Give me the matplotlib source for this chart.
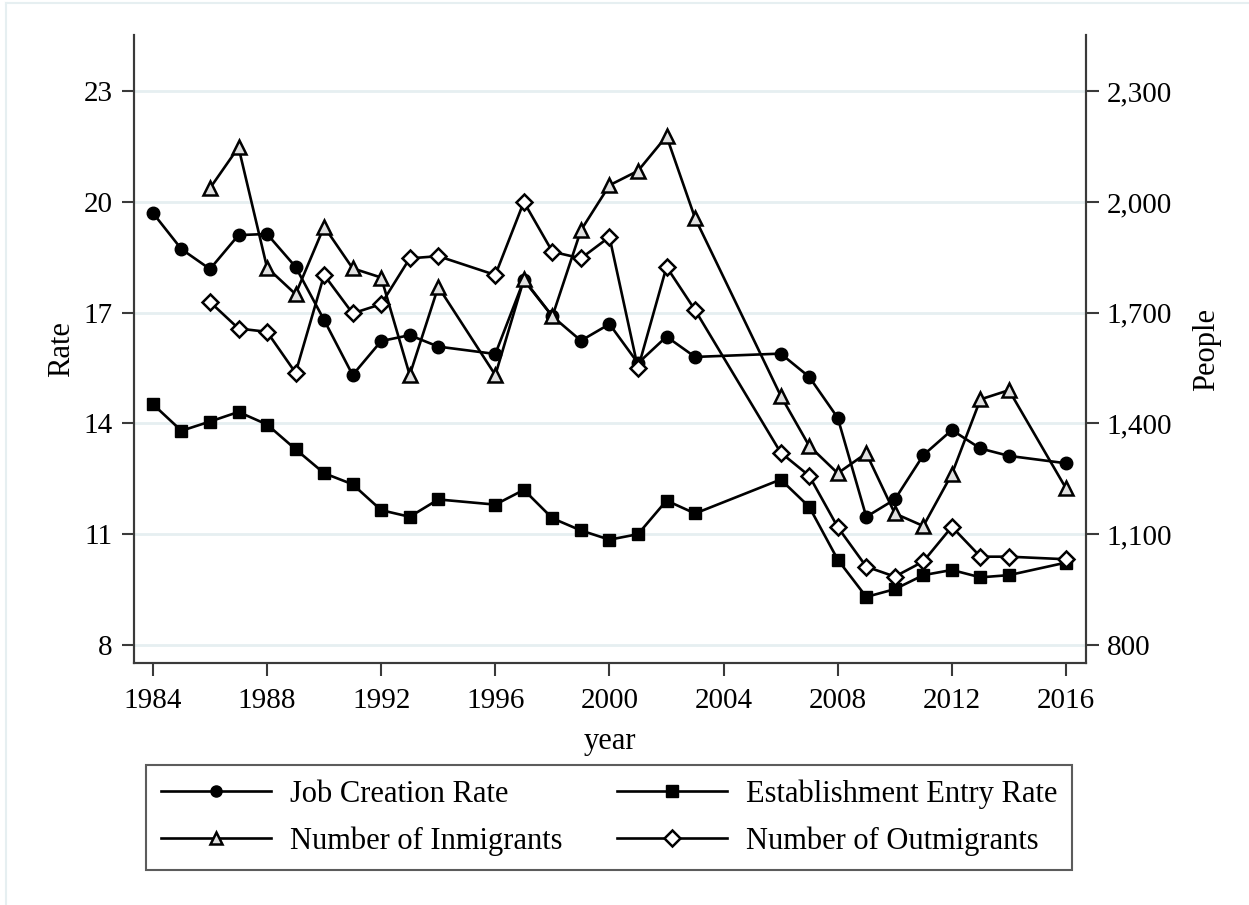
import matplotlib
matplotlib.use('Agg')
import matplotlib.pyplot as plt
from matplotlib.ticker import FuncFormatter
from matplotlib.lines import Line2D

plt.rcParams['font.family'] = ['Liberation Serif', 'DejaVu Serif']

# data (1995, 2004, 2005 and 2015 are missing)
years = [1984, 1985, 1986, 1987, 1988, 1989, 1990, 1991, 1992, 1993, 1994,
         1996, 1997, 1998, 1999, 2000, 2001, 2002, 2003, 2006, 2007, 2008,
         2009, 2010, 2011, 2012, 2013, 2014, 2016]
job_creation = [19.70, 18.72, 18.18, 19.10, 19.13, 18.24, 16.80, 15.31, 16.23,
                16.39, 16.08, 15.88, 17.88, 16.90, 16.24, 16.69, 15.63, 16.35,
                15.80, 15.89, 15.26, 14.15, 11.47, 11.94, 13.14, 13.82, 13.32,
                13.12, 12.92]
estab_entry = [14.52, 13.80, 14.05, 14.31, 13.97, 13.30, 12.65, 12.35, 11.65,
               11.47, 11.94, 11.80, 12.20, 11.43, 11.10, 10.85, 11.00, 11.91,
               11.56, 12.48, 11.74, 10.31, 9.30, 9.51, 9.89, 10.03, 9.83,
               9.89, 10.23]

mig_years = years[2:]
inmigrants = [2037, 2148, 1822, 1750, 1933, 1820, 1795, 1531, 1770, 1531,
              1790, 1690, 1923, 2045, 2084, 2178, 1956, 1475, 1339, 1265,
              1319, 1156, 1122, 1263, 1465, 1490, 1224]
outmigrants = [1729, 1657, 1648, 1537, 1802, 1698, 1723, 1847, 1853, 1802,
               2000, 1865, 1847, 1905, 1549, 1824, 1707, 1321, 1258, 1119,
               1012, 985, 1026, 1120, 1039, 1039, 1032]

rate_ticks = [8, 11, 14, 17, 20, 23]
people_ticks = [800, 1100, 1400, 1700, 2000, 2300]
year_ticks = [1984, 1988, 1992, 1996, 2000, 2004, 2008, 2012, 2016]

fs = 21
fs_lab = 22
spine_col = '#3a3a3a'
grid_col = '#e6eff1'

fig = plt.figure(figsize=(12.49, 9.05), dpi=100)
fig.patch.set_facecolor('white')

# faint outer frame of the graph region
fig.add_artist(Line2D([6/1249, 1.0], [1 - 3/905, 1 - 3/905], transform=fig.transFigure,
                      color=grid_col, lw=1.5))
fig.add_artist(Line2D([6/1249, 6/1249], [0.0, 1 - 3/905], transform=fig.transFigure,
                      color=grid_col, lw=1.5))

ax = fig.add_axes([133.5/1249, 1 - 663/905, (1086 - 133.5)/1249, (663 - 35)/905])
ax2 = ax.twinx()

y0, y1 = 7.51, 24.52
ax.set_ylim(y0, y1)
ax2.set_ylim(800 + (y0 - 8) * 100, 800 + (y1 - 8) * 100)
ax.set_xlim(1983.32, 2016.70)

lw = 1.9
l1, = ax.plot(years, job_creation, color='black', lw=lw, marker='o', ms=9,
              markerfacecolor='black', markeredgecolor='black', label='Job Creation Rate')
l2, = ax.plot(years, estab_entry, color='black', lw=lw, marker='s', ms=9,
              markerfacecolor='black', markeredgecolor='black', label='Establishment Entry Rate')
l3, = ax2.plot(mig_years, inmigrants, color='black', lw=lw, marker='^', ms=10,
               markerfacecolor='#e0e0e0', markeredgecolor='black', markeredgewidth=1.8,
               label='Number of Inmigrants')
l4, = ax2.plot(mig_years, outmigrants, color='black', lw=lw, marker='D', ms=8,
               markerfacecolor='white', markeredgecolor='black', markeredgewidth=1.8,
               label='Number of Outmigrants')

ax.set_yticks(rate_ticks)
ax2.set_yticks(people_ticks)
ax2.yaxis.set_major_formatter(FuncFormatter(lambda v, p: f'{int(v):,}'))
ax.set_xticks(year_ticks)
ax.grid(axis='y', color=grid_col, lw=2)
ax.set_axisbelow(True)

for a in (ax, ax2):
    a.spines['top'].set_visible(False)
    for s in ('left', 'right', 'bottom'):
        a.spines[s].set_color(spine_col)
        a.spines[s].set_linewidth(1.5)
    a.tick_params(axis='both', direction='out', length=9, width=1.5, color=spine_col,
                  labelsize=fs, pad=6)
ax.tick_params(axis='x', pad=9)

ax.set_ylabel('Rate', fontsize=fs_lab, labelpad=5)
ax2.set_ylabel('People', fontsize=fs_lab, labelpad=14)
ax.set_xlabel('year', fontsize=fs_lab, labelpad=9)

leg = fig.legend([l1, l3, l2, l4],
                 [l1.get_label(), l3.get_label(), l2.get_label(), l4.get_label()],
                 ncol=2, loc='center', bbox_to_anchor=(609/1249, 1 - 817.5/905),
                 bbox_transform=fig.transFigure, fontsize=fs_lab, frameon=True,
                 fancybox=False, edgecolor='#333333', handlelength=3.6,
                 handletextpad=0.62, columnspacing=1.8, labelspacing=0.57,
                 borderpad=0.47)
leg.get_frame().set_linewidth(1.5)
for h in leg.legend_handles:
    h.set_markersize(8)

fig.savefig('out.png', dpi=100, facecolor='white')
